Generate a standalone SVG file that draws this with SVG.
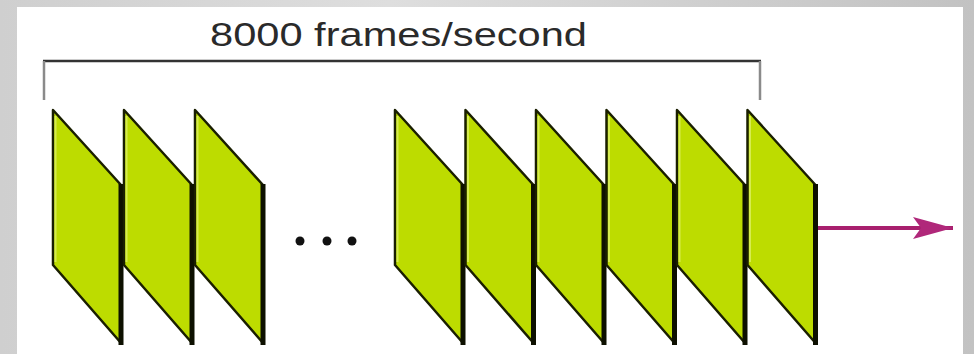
<svg xmlns="http://www.w3.org/2000/svg" width="974" height="354" viewBox="0 0 974 354">
<defs>
<linearGradient id="bg" x1="0" y1="0" x2="1" y2="0">
<stop offset="0" stop-color="#cfcfcf"/>
<stop offset="0.4" stop-color="#dedede"/>
<stop offset="1" stop-color="#c2c2c2"/>
</linearGradient>
<g id="frame">
<polygon points="0,0 68,75 68,233 0,155" fill="#bddc00" stroke="#1a1f00" stroke-width="2.5" stroke-linejoin="round"/>
<line x1="2.5" y1="6" x2="2.5" y2="152" stroke="#d6ec50" stroke-width="2"/>
<line x1="68" y1="74" x2="68" y2="235" stroke="#0d1000" stroke-width="5"/>
</g>
<marker id="ah" viewBox="0 0 40 22" refX="40" refY="11" markerWidth="40" markerHeight="22" markerUnits="userSpaceOnUse" orient="auto">
<path d="M0,0 L40,11 L0,22 L8,11 Z" fill="#b0287a"/>
</marker>
</defs>
<style>
.lbl{font-family:"Liberation Sans",Arial,sans-serif;font-size:33px;fill:#2a2a2a}
.brk{stroke:#333;stroke-width:2.5;fill:none}
.tick{stroke:#8a8a8a;stroke-width:2.5}
.dot{fill:#111}
</style>
<rect x="0" y="0" width="974" height="354" fill="url(#bg)"/>
<rect x="17" y="7" width="946" height="347" fill="#ffffff"/>
<g id="label">
<text class="lbl" x="210" y="46" textLength="377" lengthAdjust="spacingAndGlyphs">8000 frames/second</text>
</g>
<g id="bracket">
<line class="brk" x1="43" y1="61" x2="761" y2="61"/>
<line class="tick" x1="44" y1="61" x2="44" y2="100"/>
<line class="tick" x1="760" y1="61" x2="760" y2="100"/>
</g>
<g id="frame1"><use href="#frame" x="53" y="110"/></g>
<g id="frame2"><use href="#frame" x="124" y="110"/></g>
<g id="frame3"><use href="#frame" x="195" y="110"/></g>
<g id="ellipsis">
<circle class="dot" cx="300" cy="241" r="4.5"/>
<circle class="dot" cx="327" cy="241" r="4.5"/>
<circle class="dot" cx="352" cy="241" r="4.5"/>
</g>
<g id="frame4"><use href="#frame" x="395" y="110"/></g>
<g id="frame5"><use href="#frame" x="465.5" y="110"/></g>
<g id="frame6"><use href="#frame" x="536" y="110"/></g>
<g id="frame7"><use href="#frame" x="606.5" y="110"/></g>
<g id="frame8"><use href="#frame" x="677" y="110"/></g>
<g id="frame9"><use href="#frame" x="747.5" y="110"/></g>
<g id="connectors">
<line x1="818" y1="228" x2="953" y2="228" stroke="#a8206e" stroke-width="4" marker-end="url(#ah)"/>
</g>
</svg>
